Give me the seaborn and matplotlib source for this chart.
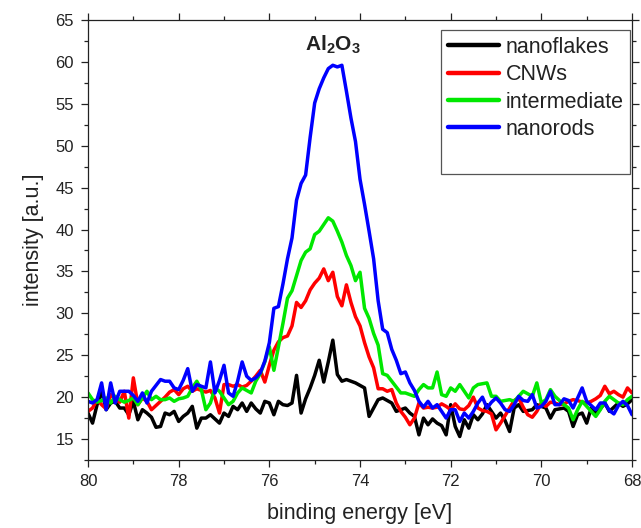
import pandas as pd
import matplotlib
matplotlib.use('Agg')
import matplotlib.pyplot as plt
from matplotlib.lines import Line2D
from matplotlib.ticker import MultipleLocator
import seaborn as sns

# binding energy axis (eV), 0.1 eV steps
energy = [
    80.0, 79.9, 79.8, 79.7, 79.6, 79.5, 79.4, 79.3, 79.2, 79.1,
    79.0, 78.9, 78.8, 78.7, 78.6, 78.5, 78.4, 78.3, 78.2, 78.1,
    78.0, 77.9, 77.8, 77.7, 77.6, 77.5, 77.4, 77.3, 77.2, 77.1,
    77.0, 76.9, 76.8, 76.7, 76.6, 76.5, 76.4, 76.3, 76.2, 76.1,
    76.0, 75.9, 75.8, 75.7, 75.6, 75.5, 75.4, 75.3, 75.2, 75.1,
    75.0, 74.9, 74.8, 74.7, 74.6, 74.5, 74.4, 74.3, 74.2, 74.1,
    74.0, 73.9, 73.8, 73.7, 73.6, 73.5, 73.4, 73.3, 73.2, 73.1,
    73.0, 72.9, 72.8, 72.7, 72.6, 72.5, 72.4, 72.3, 72.2, 72.1,
    72.0, 71.9, 71.8, 71.7, 71.6, 71.5, 71.4, 71.3, 71.2, 71.1,
    71.0, 70.9, 70.8, 70.7, 70.6, 70.5, 70.4, 70.3, 70.2, 70.1,
    70.0, 69.9, 69.8, 69.7, 69.6, 69.5, 69.4, 69.3, 69.2, 69.1,
    69.0, 68.9, 68.8, 68.7, 68.6, 68.5, 68.4, 68.3, 68.2, 68.1,
    68.0,
]

nanoflakes = [
    18.1, 16.9, 19.1, 20.7, 18.5, 19.3, 19.5, 18.7, 18.7, 17.9,
    19.5, 17.3, 18.5, 18.1, 17.6, 16.4, 16.5, 18.1, 17.9, 18.3,
    17.1, 17.7, 18.1, 18.9, 16.3, 17.5, 17.5, 17.9, 17.4, 16.9,
    18.1, 17.7, 18.9, 18.5, 19.3, 18.3, 19.3, 18.6, 18.1, 19.5,
    19.3, 17.9, 19.5, 19.1, 19.0, 19.3, 22.6, 18.1, 19.8, 21.1,
    22.6, 24.4, 21.8, 24.2, 26.8, 22.7, 21.9, 22.1, 21.9, 21.7,
    21.4, 21.1, 17.7, 18.7, 19.7, 19.9, 19.6, 19.3, 18.3, 18.5,
    18.7, 18.1, 17.7, 15.5, 17.5, 16.7, 17.4, 16.9, 16.6, 15.5,
    19.1, 16.5, 15.3, 17.3, 16.3, 17.9, 17.3, 18.0, 19.1, 18.3,
    17.5, 18.1, 17.2, 15.9, 18.7, 19.1, 18.3, 18.4, 18.5, 19.1,
    18.9, 18.7, 17.5, 18.5, 18.6, 18.7, 18.3, 16.5, 17.9, 18.1,
    16.9, 18.7, 18.1, 18.6, 19.3, 18.3, 18.8, 19.3, 18.9, 19.2,
    19.7,
]

cnws = [
    18.3, 18.7, 19.7, 19.1, 18.6, 20.3, 19.8, 19.4, 20.7, 17.5,
    22.3, 19.1, 19.9, 19.5, 18.5, 19.0, 19.5, 20.0, 20.6, 20.9,
    20.3, 21.0, 21.3, 20.7, 21.0, 20.8, 20.6, 20.8, 19.9, 18.1,
    21.5, 21.5, 21.3, 21.5, 21.2, 21.4, 21.9, 22.5, 23.2, 21.8,
    23.8, 25.6, 26.6, 27.1, 27.3, 28.5, 31.3, 30.7, 31.5, 32.8,
    33.6, 34.2, 35.3, 33.9, 34.9, 32.0, 30.9, 33.4, 31.3, 29.6,
    28.5, 26.5, 24.8, 23.5, 21.0, 21.0, 20.7, 20.9, 19.3, 18.3,
    17.6, 16.7, 17.5, 19.3, 18.7, 18.8, 18.7, 18.8, 19.2, 18.9,
    18.5, 19.2, 18.6, 18.5, 19.0, 20.0, 18.7, 18.4, 18.3, 18.0,
    16.1, 16.9, 17.8, 18.7, 19.6, 19.9, 18.8, 17.9, 17.6, 18.3,
    19.3, 18.9, 19.4, 19.3, 19.1, 19.2, 19.5, 19.7, 19.6, 19.4,
    19.3, 19.5, 19.8, 20.2, 21.3, 20.4, 20.7, 20.3, 20.0, 21.1,
    20.5,
]

intermediate = [
    20.5, 19.7, 19.4, 19.6, 19.9, 19.3, 20.1, 19.7, 19.4, 19.6,
    19.9, 19.1, 19.9, 20.7, 19.7, 20.1, 19.7, 19.7, 19.9, 19.5,
    19.8, 19.9, 20.1, 21.1, 21.9, 20.9, 18.5, 19.3, 21.1, 20.7,
    19.9, 19.1, 19.5, 20.5, 21.1, 20.8, 20.5, 21.9, 22.8, 24.2,
    26.0, 23.2, 26.0, 28.8, 31.8, 32.7, 34.5, 36.3, 37.3, 37.7,
    39.4, 39.8, 40.6, 41.4, 41.0, 39.8, 38.5, 36.9, 35.7, 33.9,
    34.9, 30.6, 29.4, 27.6, 26.2, 22.8, 22.6, 21.9, 21.2, 20.5,
    20.5, 20.3, 20.1, 20.9, 21.5, 21.1, 21.1, 23.0, 20.3, 20.1,
    21.1, 20.7, 21.5, 20.7, 19.9, 21.1, 21.5, 21.6, 21.7, 20.1,
    20.1, 19.5, 19.6, 19.7, 19.5, 20.1, 20.7, 20.4, 20.1, 21.7,
    19.3, 19.7, 20.9, 20.1, 19.6, 19.1, 18.7, 17.3, 18.5, 19.5,
    18.9, 18.3, 17.7, 18.5, 19.5, 20.1, 19.7, 19.3, 19.1, 19.7,
    20.1,
]

nanorods = [
    19.5, 19.3, 19.7, 21.7, 18.5, 21.7, 19.3, 20.7, 20.7, 20.7,
    20.2, 19.5, 20.5, 19.3, 20.7, 21.4, 22.1, 21.9, 21.9, 21.1,
    20.9, 22.0, 23.4, 20.7, 21.5, 21.3, 21.1, 24.2, 20.5, 22.0,
    23.8, 20.5, 20.1, 21.9, 24.2, 22.5, 22.0, 22.3, 22.9, 24.3,
    26.5, 30.6, 30.8, 33.5, 36.5, 39.0, 43.5, 45.5, 46.5, 51.0,
    55.1, 56.8, 58.1, 59.2, 59.6, 59.4, 59.6, 56.5, 53.3, 50.5,
    46.0, 43.0, 39.8, 36.5, 31.5, 28.1, 27.7, 25.7, 24.4, 22.8,
    23.0, 21.7, 20.8, 19.5, 18.8, 19.5, 18.7, 19.1, 18.3, 17.5,
    18.5, 18.5, 17.1, 18.1, 17.5, 18.3, 19.3, 20.0, 18.7, 19.4,
    19.9, 19.3, 18.5, 18.3, 19.1, 20.1, 19.6, 19.5, 20.3, 18.7,
    18.9, 19.5, 20.7, 19.1, 19.1, 19.8, 19.6, 18.7, 19.9, 21.1,
    19.5, 19.0, 18.5, 19.3, 19.3, 18.4, 18.0, 19.0, 19.5, 19.0,
    17.9,
]

samples = ['nanoflakes', 'CNWs', 'intermediate', 'nanorods']
colors = {'nanoflakes': '#000000', 'CNWs': '#ff0000',
          'intermediate': '#00e800', 'nanorods': '#0000ff'}

# long format for seaborn
frames = []
for name, vals in zip(samples, [nanoflakes, cnws, intermediate, nanorods]):
    frames.append(pd.DataFrame({'energy': energy, 'intensity': vals, 'sample': name}))
df = pd.concat(frames, ignore_index=True)

sns.set_style('ticks')
plt.rcParams['font.family'] = ['Liberation Sans', 'DejaVu Sans']
plt.rcParams['mathtext.fontset'] = 'custom'
plt.rcParams['mathtext.rm'] = 'Liberation Sans'
plt.rcParams['mathtext.bf'] = 'Liberation Sans:bold'

fig = plt.figure(figsize=(6.41, 5.28), dpi=100)
ax = fig.add_axes([0.1373, 0.1288, 0.8487, 0.8333])

sns.lineplot(data=df, x='energy', y='intensity', hue='sample',
             hue_order=samples, palette=colors, linewidth=2.5,
             estimator=None, sort=False, legend=False, ax=ax)

ax.set_xlim(80, 68)
ax.set_ylim(12.5, 65)
ax.xaxis.set_major_locator(MultipleLocator(2))
ax.xaxis.set_minor_locator(MultipleLocator(1))
ax.yaxis.set_major_locator(MultipleLocator(5))
ax.yaxis.set_minor_locator(MultipleLocator(2.5))
ax.tick_params(which='both', direction='out', top=True, right=True,
               color='#222222', width=0.9)
ax.tick_params(which='major', length=5, labelsize=12, pad=5, labelcolor='#222222')
ax.tick_params(which='minor', length=2.8)
for sp in ax.spines.values():
    sp.set_visible(True)
    sp.set_linewidth(0.9)
    sp.set_color('#222222')

ax.set_xlabel('binding energy [eV]', fontsize=15.5, labelpad=10, color='#222222')
ax.set_ylabel('intensity [a.u.]', fontsize=15.5, labelpad=8, color='#222222')

ax.text(74.6, 62.0, r'$\mathbf{Al_2O_3}$', fontsize=15, ha='center', va='center',
        color='#222222')

# legend with a blank last row, as in the original box
handles = [Line2D([0], [0], color=colors[s], lw=3.2) for s in samples]
handles.append(Line2D([0], [0], color='none'))
labels = samples + [' ']
leg = ax.legend(handles, labels, loc='upper right', bbox_to_anchor=(0.997, 0.977),
                borderaxespad=0, fontsize=15.5, frameon=True, fancybox=False,
                framealpha=1, edgecolor='#555555', handlelength=2.4,
                handletextpad=0.3, labelspacing=0.3, borderpad=0.3)
leg.get_frame().set_linewidth(0.9)
for t in leg.get_texts():
    t.set_color('#222222')

plt.savefig('out.png', dpi=100)
